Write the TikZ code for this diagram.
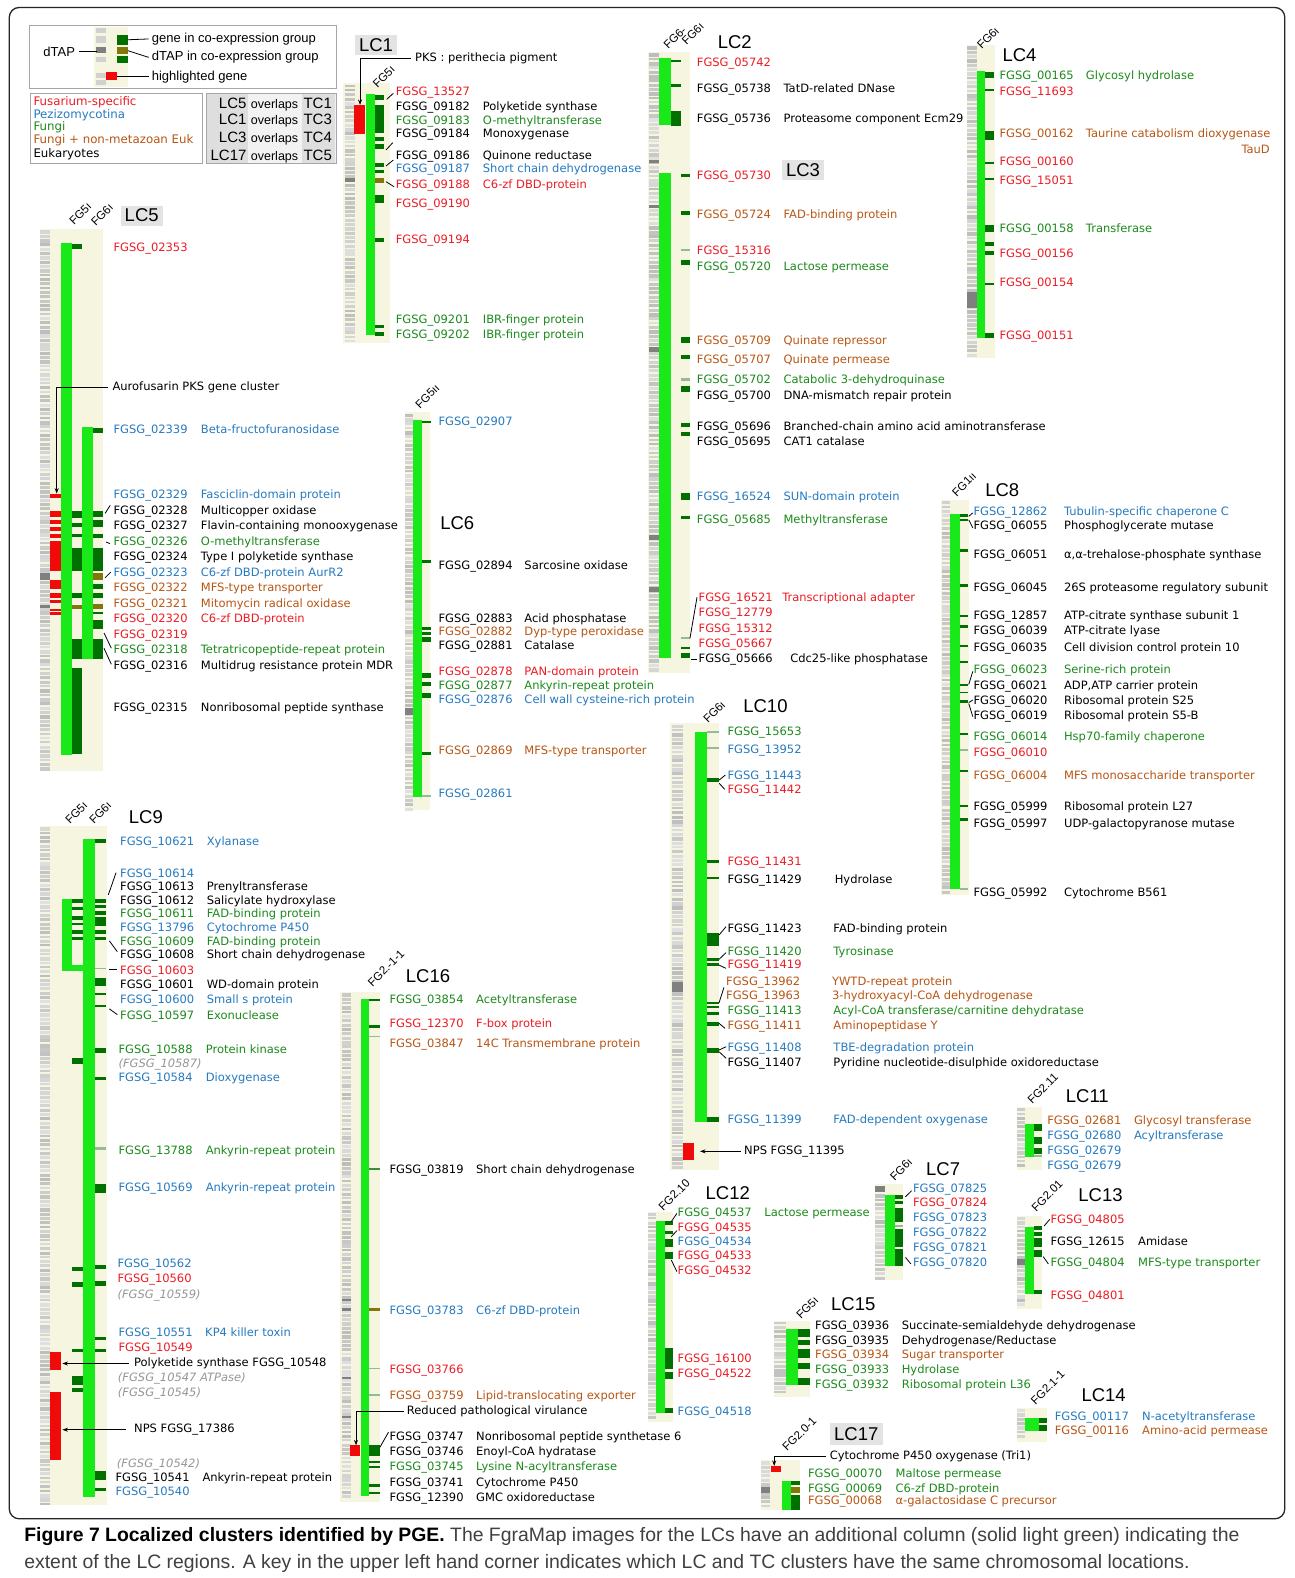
\documentclass[tikz,border=0pt]{standalone}
\usepackage{fontspec}
\setmainfont{DejaVu Sans}
\newfontfamily\hv{Liberation Sans}
\usetikzlibrary{arrows.meta}
\definecolor{bg}{RGB}{245,245,224}
\definecolor{lg}{RGB}{25,232,25}
\definecolor{dg}{RGB}{0,112,0}
\definecolor{mg}{RGB}{60,140,60}
\definecolor{ol}{RGB}{130,120,10}
\definecolor{hl}{RGB}{240,10,10}
\definecolor{lt}{RGB}{150,185,150}
\definecolor{dk}{RGB}{128,128,128}
\definecolor{cR}{RGB}{236,28,36}
\definecolor{cB}{RGB}{38,122,192}
\definecolor{cG}{RGB}{28,138,28}
\definecolor{cO}{RGB}{184,86,20}
\definecolor{cK}{RGB}{0,0,0}
\definecolor{cI}{RGB}{150,150,150}
\newcommand\gf{\fontsize{11.5}{13}\selectfont}
\newcommand\genN[5]{\node[gtxt,text=#4] (#1) at (#2,#3) {#5};}
\newcommand\genD[7]{\node[gtxt,text=#4] (#1) at (#2,#3) {#5};\node[gtxt,text=#4] (#1d) at (#6,#3) {#7};}
\newcommand\blk[3][dg]{\fill[#1] (\cx,#2) rectangle (\cX,#3);}
\newcommand\dtap[4]{%
 \pgfmathtruncatemacro\nn{(#4-#3)/4.3}%
 \foreach \i in {0,...,\nn}{%
  \pgfmathsetmacro\yy{#3+\i*4.3}%
  \pgfmathtruncatemacro\sh{12+rnd*15}%
  \pgfmathsetmacro\hh{2.2+rnd*1.6}%
  \fill[black!\sh] ({#1},{\yy}) rectangle ({#2},{\yy+\hh});}}
\begin{document}
\begin{tikzpicture}[x=1.0065pt,y=-1.0065pt,
 gtxt/.style={anchor=base west,inner sep=0,yshift=-4.2pt,font=\gf},
 gi/.style={gtxt,text=cI,font=\gf\itshape},
 lct/.style={inner sep=0,font=\hv\fontsize{18.5}{20}\selectfont},
 lcb/.style={lct,fill=black!11,minimum width=42pt,minimum height=20pt},
 fgl/.style={rotate=45,anchor=base west,inner sep=0,font=\hv\fontsize{11.5}{13}\selectfont},
 lead/.style={line width=0.8pt},
 arr/.style={-{Stealth[length=5.5pt,width=4pt]},line width=0.9pt},
 boxc/.style={draw=black!35,line width=0.8pt},
 keyt/.style={inner sep=0,anchor=west,font=\hv\fontsize{13}{15}\selectfont},
 legt/.style={gtxt,font=\fontsize{11.8}{13}\selectfont},
 ovb/.style={inner sep=0,yshift=-5.4pt,font=\hv\fontsize{15}{17}\selectfont},
 ovs/.style={inner sep=0,yshift=-5.4pt,font=\hv\fontsize{12.5}{14}\selectfont},
 captxt/.style={anchor=base west,inner sep=0,font=\hv\fontsize{19.4}{22}\selectfont,text=black!75}]
\pgfmathsetseed{4711}
\useasboundingbox (0,0) rectangle (1286.6,1567.8);
\fill[white] (0,0) rectangle (1286.6,1567.8);
\draw[black!85,line width=1.3pt,rounded corners=10pt] (9.2,7.4) rectangle (1276.5,1509);
% ---------------- KEY ----------------
\draw[boxc] (29.1,24.8) rectangle (334.5,87.7);
\fill[bg] (93.7,26.5) rectangle (127.5,86.1);
\fill[black!18] (95.4,28) rectangle (105.3,33);
\fill[black!18] (95.4,35.8) rectangle (105.3,42.4);
\fill[dk] (95.4,46.4) rectangle (105.3,53);
\fill[black!18] (95.4,56.4) rectangle (105.3,61.4);
\fill[black!18] (95.4,72.4) rectangle (105.3,77);
\fill[black!18] (95.4,79.7) rectangle (105.3,84.5);
\fill[dg] (116.6,34.8) rectangle (126.9,44.7);
\fill[ol] (116.6,47) rectangle (126.9,53.7);
\fill[dg] (116.6,55.6) rectangle (126.9,62.3);
\fill[hl] (105.3,71.9) rectangle (116.6,79.5);
\node[keyt] (kdtap) at (43,51.4) {dTAP};
\coordinate (kdm) at (96,51.4);
\draw[lead] ([xshift=4pt]kdtap.east) -- (kdm);
\node[keyt] (kgene) at (150.7,38.7) {gene in co-expression group};
\coordinate (kgm) at (126.9,39.5);
\draw[lead] (kgm) -- ([xshift=-3pt]kgene.west);
\node[keyt] (kdtc) at (150.7,57) {dTAP in co-expression group};
\coordinate (kom) at (126.9,50.3);
\draw[lead] (kom) -- ([xshift=-3pt]kdtc.west);
\node[keyt] (khl) at (150.7,76.2) {highlighted gene};
\coordinate (khm) at (116.6,76.2);
\draw[lead] (khm) -- ([xshift=-3pt]khl.west);
\draw[boxc] (29.8,92.7) rectangle (201,162.2);
\node[legt,text=cR] (leg1) at (33.1,100.4) {Fusarium-specific};
\node[legt,text=cB] (leg2) at (33.1,113.6) {Pezizomycotina};
\node[legt,text=cG] (leg3) at (33.1,125.9) {Fungi};
\node[legt,text=cO] (leg4) at (33.1,138.4) {Fungi + non-metazoan Euk};
\node[legt,text=cK] (leg5) at (33.1,152.3) {Eukaryotes};
\fill[black!5] (204.7,92.7) rectangle (334.5,162.2);
\fill[black!13] (205.3,93.2) rectangle (246.7,161.7);
\fill[black!13] (299.7,93.2) rectangle (332.8,161.7);
\draw[boxc] (204.7,92.7) rectangle (334.5,162.2);
\foreach \lc/\tc/\yy/\k in {LC5/TC1/102.7/a,LC1/TC3/118.6/b,LC3/TC4/136.4/c,LC17/TC5/154/d}{
 \node[ovb,anchor=base east] (ovl\k) at (245.1,\yy) {\lc};
 \node[ovs,anchor=base west] (ovm\k) at (249.1,\yy) {overlaps};
 \node[ovb,anchor=base west] (ovt\k) at (301.4,\yy) {\tc};}
% ---------------- LC1 ----------------
\fill[bg] (340.8,82.5) rectangle (387.5,340.8);
\dtap{342.8}{352.7}{84}{338}
\fill[dk] (342.8,176.9) rectangle (352.7,181);
\fill[hl] (351.7,104.3) rectangle (362.6,133.1);
\fill[lg] (363.6,93.4) rectangle (372.6,332.8);
\def\cx{372.6}\def\cX{381.5}
\blk{94.4}{99.4}\blk{104.3}{132.1}\blk{136.1}{140.1}\blk{143.1}{148}\blk{162}{166}\blk{168.9}{171.9}\blk[ol]{176.9}{181.8}\blk{193.7}{201.7}\blk{236.5}{240.4}\blk{322.9}{325.9}\blk{329.9}{333.8}
\node[lcb] (lc1) at (373.6,44.7) {LC1};
\node[fgl] (fg1) at (375,88) {FG5ı};
\node[gtxt] (pks) at (412.3,57) {PKS : perithecia pigment};
\coordinate (pksred) at (357.7,104.3);
\draw[arr] ([xshift=-4pt]pks.west) -| (pksred);
\genN{g13527}{393.1}{91.1}{cR}{FGSG\_13527}
\genD{g09182}{393.1}{105.3}{cK}{FGSG\_09182}{479.6}{Polyketide synthase}
\genD{g09183}{393.1}{119.2}{cG}{FGSG\_09183}{479.6}{O-methyltransferase}
\genD{g09184}{393.1}{132.8}{cK}{FGSG\_09184}{479.6}{Monoxygenase}
\genD{g09186}{393.1}{154.3}{cK}{FGSG\_09186}{479.6}{Quinone reductase}
\genD{g09187}{393.1}{167.6}{cB}{FGSG\_09187}{479.6}{Short chain dehydrogenase}
\genD{g09188}{393.1}{182.8}{cR}{FGSG\_09188}{479.6}{C6-zf DBD-protein}
\genN{g09190}{393.1}{202}{cR}{FGSG\_09190}
\genN{g09194}{393.1}{237.8}{cR}{FGSG\_09194}
\genD{g09201}{393.1}{316.9}{cG}{FGSG\_09201}{479.6}{IBR-finger protein}
\genD{g09202}{393.1}{332.1}{cG}{FGSG\_09202}{479.6}{IBR-finger protein}
\draw[lead] (384.2,98.7) -- (390.8,92.7);
\draw[lead] (383.5,149) -- (390.2,141.8);
\draw[lead] (383.5,164.9) -- (390.8,159);
\draw[lead] (383.5,180.5) -- (391.5,185.5);
% ---------------- LC2 / LC3 ----------------
\fill[bg] (644.1,51.3) rectangle (685.5,669);
\dtap{645}{655}{53}{666}
\fill[dk] (645,159) rectangle (655,162.2);
\fill[dk] (645,203.7) rectangle (655,206.4);
\fill[dk] (645,344.4) rectangle (655,349.4);
\fill[dk] (645,531.5) rectangle (655,536.5);
\fill[dk] (645,582.9) rectangle (655,587.9);
\fill[lg] (655,58) rectangle (666.4,124.2);
\fill[lg] (655,172.2) rectangle (666.4,654);
\def\cx{666.4}\def\cX{676.3}
\blk{59.6}{61.9}\blk{83.8}{86.1}\blk{110.3}{124.9}
\def\cx{676.3}\def\cX{685.5}
\blk{173.2}{175.9}\blk{209.3}{213.6}\blk[lt]{247.7}{249.4}\blk{258.6}{263.3}\blk{334.5}{341.1}\blk{352.7}{356.7}\blk[lt]{375.9}{378.2}\blk{383.3}{389.1}\blk{420.6}{423.9}\blk{428.9}{433.2}\blk{490.1}{496.8}\blk{512.7}{516}\blk[lt]{632.6}{635.2}\blk{642.5}{645.1}\blk{649.1}{653.9}
\node[lct] (lc2) at (730,41.5) {LC2};
\node[lcb] (lc3) at (797.8,168.9) {LC3};
\node[fgl] (fg2a) at (664,49.7) {FG6-};
\node[fgl] (fg2b) at (682,45.4) {FG6ı};
\genN{g05742}{692.2}{61.9}{cR}{FGSG\_05742}
\genD{g05738}{692.2}{87.8}{cK}{FGSG\_05738}{778.3}{TatD-related DNase}
\genD{g05736}{692.2}{117.9}{cK}{FGSG\_05736}{778.3}{Proteasome component Ecm29}
\genN{g05730}{692.2}{174.5}{cR}{FGSG\_05730}
\genD{g05724}{692.2}{212.6}{cO}{FGSG\_05724}{778.3}{FAD-binding protein}
\genN{g15316}{692.2}{249.1}{cR}{FGSG\_15316}
\genD{g05720}{692.2}{264.6}{cG}{FGSG\_05720}{778.3}{Lactose permease}
\genD{g05709}{692.2}{337.8}{cO}{FGSG\_05709}{778.3}{Quinate repressor}
\genD{g05707}{692.2}{357}{cO}{FGSG\_05707}{778.3}{Quinate permease}
\genD{g05702}{692.2}{377}{cG}{FGSG\_05702}{778.3}{Catabolic 3-dehydroquinase}
\genD{g05700}{692.2}{393.1}{cK}{FGSG\_05700}{778.3}{DNA-mismatch repair protein}
\genD{g05696}{692.2}{423.9}{cK}{FGSG\_05696}{778.3}{Branched-chain amino acid aminotransferase}
\genD{g05695}{692.2}{438.9}{cK}{FGSG\_05695}{778.3}{CAT1 catalase}
\genD{g16524}{692.2}{493.5}{cB}{FGSG\_16524}{778.3}{SUN-domain protein}
\genD{g05685}{692.2}{516}{cG}{FGSG\_05685}{778.3}{Methyltransferase}
\genD{g16521}{694}{593.5}{cR}{FGSG\_16521}{777}{Transcriptional adapter}
\genN{g12779}{694}{608.4}{cR}{FGSG\_12779}
\genN{g15312}{694}{624.2}{cR}{FGSG\_15312}
\genN{g05667}{694}{639.1}{cR}{FGSG\_05667}
\genD{g05666}{694}{654.1}{cK}{FGSG\_05666}{785}{Cdc25-like phosphatase}
\draw[lead] (685.5,634.2) -- (692.5,593.4);
\draw[lead] (686.2,655) -- (692.5,655);
% ---------------- LC4 ----------------
\fill[bg] (960.4,44.7) rectangle (988.6,356);
\dtap{961}{970.4}{46}{354}
\fill[dk] (961,289.8) rectangle (970.4,306.3);
\fill[lg] (970.4,70.5) rectangle (978.6,335.5);
\def\cx{978.6}\def\cX{987.9}
\blk{71.5}{77.5}\blk{88.4}{90.4}\blk{130.2}{139.1}\blk{161}{162.6}\blk{176.9}{178.8}\blk{223.5}{230.5}\blk{240.4}{244.4}\blk{249.4}{253.4}\blk{281.2}{283}\blk{330.9}{335.8}
\node[lct] (lc4) at (1012.9,54.6) {LC4};
\node[fgl] (fg4) at (975.3,49.7) {FG6ı};
\genD{g00165}{992.9}{75.2}{cG}{FGSG\_00165}{1078.7}{Glycosyl hydrolase}
\genN{g11693}{992.9}{91.1}{cR}{FGSG\_11693}
\genD{g00162}{992.9}{132.5}{cO}{FGSG\_00162}{1078.7}{Taurine catabolism dioxygenase}
\node[gtxt,anchor=base east,text=cO] (taud) at (1261.8,148) {TauD};
\genN{g00160}{992.9}{160.6}{cR}{FGSG\_00160}
\genN{g15051}{992.9}{179.2}{cR}{FGSG\_15051}
\genD{g00158}{992.9}{226.9}{cG}{FGSG\_00158}{1078.7}{Transferase}
\genN{g00156}{992.9}{251.4}{cR}{FGSG\_00156}
\genN{g00154}{992.9}{280.9}{cR}{FGSG\_00154}
\genN{g00151}{992.9}{332.8}{cR}{FGSG\_00151}
% ---------------- LC5 ----------------
\fill[bg] (39.7,227.1) rectangle (102.7,766);
\dtap{39.7}{49.7}{229}{764}
\fill[dk] (39.7,569.5) rectangle (49.7,576.6);
\fill[dk] (39.7,601) rectangle (49.7,604.5);
\fill[lg] (60.3,241.3) rectangle (71.2,750);
\fill[lg] (81.8,424) rectangle (92.7,654.6);
\def\cx{49.7}\def\cX{60.3}
\blk[hl]{490.4}{495}\blk[hl]{508.1}{513.8}\blk[hl]{516.3}{521}\blk[hl]{523.4}{528}\blk[hl]{530.5}{535}\blk[hl]{537}{567.7}\blk[hl]{576.6}{585.5}\blk[hl]{589}{594.3}\blk[hl]{596.5}{599.5}\blk[hl]{605}{607}\blk[hl]{608.5}{611}
\def\cx{71.2}\def\cX{81.8}
\blk{242.3}{247.3}\blk{508.1}{514.5}\blk{519.8}{523.4}\blk{530.5}{534}\blk{544.7}{567.7}\blk{589}{594.3}\blk[ol]{601.5}{605}\blk{635.1}{654.6}\blk{663.6}{748.7}
\def\cx{92.7}\def\cX{102.7}
\blk{424.8}{430.1}\blk{508.1}{513.8}\blk{516.3}{523.4}\blk{530.5}{534.5}\blk{544.7}{567.7}\blk[ol]{569.5}{576.6}\blk{580.1}{585.5}\blk{589}{594.3}\blk[ol]{600.4}{605}\blk{608.5}{610.3}\blk{615.6}{624.5}\blk{635.1}{654.6}
\node[lcb] (lc5) at (140.8,214.2) {LC5};
\node[fgl] (fg5a) at (73.5,224.3) {FG5ı};
\node[fgl] (fg5b) at (95,225.3) {FG6ı};
\genN{g02353}{112.6}{245.9}{cR}{FGSG\_02353}
\node[gtxt] (auro) at (111.6,383.6) {Aurofusarin PKS gene cluster};
\coordinate (aurored) at (56.3,490.4);
\draw[arr] ([xshift=-4pt]auro.west) -| (aurored);
\genD{g02339}{112.6}{426.8}{cB}{FGSG\_02339}{199.4}{Beta-fructofuranosidase}
\genD{g02329}{112.6}{491.4}{cB}{FGSG\_02329}{199.4}{Fasciclin-domain protein}
\genD{g02328}{112.6}{506.7}{cK}{FGSG\_02328}{199.4}{Multicopper oxidase}
\genD{g02327}{112.6}{522}{cK}{FGSG\_02327}{199.4}{Flavin-containing monooxygenase}
\genD{g02326}{112.6}{537.6}{cG}{FGSG\_02326}{199.4}{O-methyltransferase}
\genD{g02324}{112.6}{552.8}{cK}{FGSG\_02324}{199.4}{Type I polyketide synthase}
\genD{g02323}{112.6}{568.4}{cB}{FGSG\_02323}{199.4}{C6-zf DBD-protein AurR2}
\genD{g02322}{112.6}{583.7}{cO}{FGSG\_02322}{199.4}{MFS-type transporter}
\genD{g02321}{112.6}{599}{cO}{FGSG\_02321}{199.4}{Mitomycin radical oxidase}
\genD{g02320}{112.6}{614.6}{cR}{FGSG\_02320}{199.4}{C6-zf DBD-protein}
\genN{g02319}{112.6}{629.8}{cR}{FGSG\_02319}
\genD{g02318}{112.6}{645.1}{cG}{FGSG\_02318}{199.4}{Tetratricopeptide-repeat protein}
\genD{g02316}{112.6}{660.7}{cK}{FGSG\_02316}{199.4}{Multidrug resistance protein MDR}
\genD{g02315}{112.6}{702.6}{cK}{FGSG\_02315}{199.4}{Nonribosomal peptide synthase}
\draw[lead] (104.5,510) -- (109.5,502);
\draw[lead] (105.3,538.5) -- (109.3,540.1);
\draw[lead] (104.3,574.2) -- (110,568.4);
\draw[lead] (103.3,628.8) -- (110.6,644);
\draw[lead] (103.3,644) -- (110.6,660);
% ---------------- LC6 ----------------
\fill[bg] (402.4,409) rectangle (427.2,804.8);
\dtap{402.4}{410.6}{411}{803}
\fill[dk] (402.4,703.8) rectangle (410.6,710.4);
\fill[lg] (410.6,417.3) rectangle (418.9,791.6);
\def\cx{418.9}\def\cX{427.9}
\blk{418.3}{420.3}\blk{556.4}{559.4}\blk{622.9}{625.9}\blk{627.9}{630.9}\blk{632.9}{637.9}\blk{668.7}{673.6}\blk{677.6}{681.6}\blk{688.5}{693.5}\blk{747.2}{750.1}\blk[lt]{790.2}{791.6}
\node[lct] (lc6) at (454.3,519.9) {LC6};
\node[fgl] (fg6) at (417.3,406.7) {FG5ıı};
\genN{g02907}{435.5}{418.9}{cB}{FGSG\_02907}
\genD{g02894}{435.5}{561.4}{cK}{FGSG\_02894}{520.9}{Sarcosine oxidase}
\genD{g02883}{435.5}{614.3}{cK}{FGSG\_02883}{520.9}{Acid phosphatase}
\genD{g02882}{435.5}{627.6}{cO}{FGSG\_02882}{520.9}{Dyp-type peroxidase}
\genD{g02881}{435.5}{640.9}{cK}{FGSG\_02881}{520.9}{Catalase}
\genD{g02878}{435.5}{667.3}{cR}{FGSG\_02878}{520.9}{PAN-domain protein}
\genD{g02877}{435.5}{681.2}{cG}{FGSG\_02877}{520.9}{Ankyrin-repeat protein}
\genD{g02876}{435.5}{694.8}{cB}{FGSG\_02876}{520.9}{Cell wall cysteine-rich protein}
\genD{g02869}{435.5}{745.2}{cO}{FGSG\_02869}{520.9}{MFS-type transporter}
\genN{g02861}{435.5}{788.2}{cB}{FGSG\_02861}
% ---------------- LC8 ----------------
\fill[bg] (935,496.8) rectangle (962.7,889.2);
\dtap{936}{944.3}{498}{887}
\fill[lg] (944.3,510.7) rectangle (953.4,883.6);
\def\cx{953.4}\def\cX{961.8}
\blk{510.7}{513.4}\blk{515.6}{517.3}\blk{545.8}{548.1}\blk{580.5}{582.9}\blk{611}{613.3}\blk{621}{623.7}\blk{640.8}{642.5}\blk{657}{659}\blk{679.6}{681.6}\blk{687.2}{688.9}\blk{695.5}{698.1}\blk{727.9}{730.3}\blk[lt]{744.5}{745.8}\blk{765}{767.3}\blk{799.8}{801.5}\blk{813}{815.4}\blk[lt]{882.5}{884}
\node[lct] (lc8) at (995.8,486.9) {LC8};
\node[fgl] (fg8) at (950.5,494.1) {FG1ıı};
\genD{g12862}{967}{508.4}{cB}{FGSG\_12862}{1057}{Tubulin-specific chaperone C}
\genD{g06055}{967}{522.3}{cK}{FGSG\_06055}{1057}{Phosphoglycerate mutase}
\genD{g06051}{967}{550.7}{cK}{FGSG\_06051}{1057}{α,α-trehalose-phosphate synthase}
\genD{g06045}{967}{583.9}{cK}{FGSG\_06045}{1057}{26S proteasome regulatory subunit}
\genD{g12857}{967}{611.7}{cK}{FGSG\_12857}{1057}{ATP-citrate synthase subunit 1}
\genD{g06039}{967}{626.6}{cK}{FGSG\_06039}{1057}{ATP-citrate lyase}
\genD{g06035}{967}{643.1}{cK}{FGSG\_06035}{1057}{Cell division control protein 10}
\genD{g06023}{967}{664.7}{cG}{FGSG\_06023}{1057}{Serine-rich protein}
\genD{g06021}{967}{680.6}{cK}{FGSG\_06021}{1057}{ADP,ATP carrier protein}
\genD{g06020}{967}{696.2}{cK}{FGSG\_06020}{1057}{Ribosomal protein S25}
\genD{g06019}{967}{711.1}{cK}{FGSG\_06019}{1057}{Ribosomal protein S5-B}
\genD{g06014}{967}{731.2}{cG}{FGSG\_06014}{1057}{Hsp70-family chaperone}
\genN{g06010}{967}{747.8}{cR}{FGSG\_06010}
\genD{g06004}{967}{770.7}{cO}{FGSG\_06004}{1057}{MFS monosaccharide transporter}
\genD{g05999}{967}{800.8}{cK}{FGSG\_05999}{1057}{Ribosomal protein L27}
\genD{g05997}{967}{818}{cK}{FGSG\_05997}{1057}{UDP-galactopyranose mutase}
\genD{g05992}{967}{886.6}{cK}{FGSG\_05992}{1057}{Cytochrome B561}
\draw[lead] (962.5,513) -- (966.5,509.5);
\draw[lead] (962.5,516.5) -- (966.5,524.5);
\draw[lead] (962.5,680) -- (966.5,667);
\draw[lead] (962.5,698) -- (966.5,695.5);
\draw[lead] (962.5,699) -- (966.5,712);
% ---------------- LC10 ----------------
\fill[bg] (665.7,718.7) rectangle (714.4,1162.4);
\dtap{667.3}{678.3}{720}{1160}
\fill[dk] (667.3,975.3) rectangle (678.3,985.3);
\fill[hl] (678.3,1135.3) rectangle (689.5,1152.5);
\fill[lg] (690.5,727) rectangle (702.1,1114.5);
\def\cx{702.1}\def\cX{714.4}
\blk[lt]{726.2}{727.8}\blk[lt]{742.1}{743.7}\blk{772.6}{776.6}\blk{854.5}{857.8}\blk{871}{873.3}\blk{927.3}{939.9}\blk{952.1}{954.8}\blk{957.1}{959.8}\blk{995.2}{997.5}\blk{999.5}{1001.8}\blk{1005.2}{1008.4}\blk{1015.1}{1019.1}\blk{1041.6}{1045.9}\blk{1110.1}{1114.5}
\node[lct] (lc10) at (760.5,701.3) {LC10};
\node[fgl] (fg10) at (703.4,719.3) {FG6ı};
\genN{g15653}{722.6}{727}{cG}{FGSG\_15653}
\genN{g13952}{722.6}{744.2}{cB}{FGSG\_13952}
\genN{g11443}{722.6}{770.7}{cB}{FGSG\_11443}
\genN{g11442}{722.6}{783.9}{cR}{FGSG\_11442}
\genN{g11431}{722.6}{855.4}{cR}{FGSG\_11431}
\genD{g11429}{722.6}{873.3}{cK}{FGSG\_11429}{829.2}{Hydrolase}
\genD{g11423}{722.6}{922.3}{cK}{FGSG\_11423}{827.9}{FAD-binding protein}
\genD{g11420}{722.6}{944.9}{cG}{FGSG\_11420}{827.9}{Tyrosinase}
\genN{g11419}{722.6}{958.1}{cR}{FGSG\_11419}
\genD{g13962}{721.3}{975.3}{cO}{FGSG\_13962}{826.5}{YWTD-repeat protein}
\genD{g13963}{721.3}{989.2}{cO}{FGSG\_13963}{826.5}{3-hydroxyacyl-CoA dehydrogenase}
\genD{g11413}{722.6}{1004.1}{cG}{FGSG\_11413}{827.9}{Acyl-CoA transferase/carnitine dehydratase}
\genD{g11411}{722.6}{1018.7}{cO}{FGSG\_11411}{827.9}{Aminopeptidase Y}
\genD{g11408}{722.6}{1040.6}{cB}{FGSG\_11408}{827.9}{TBE-degradation protein}
\genD{g11407}{722.6}{1055.8}{cK}{FGSG\_11407}{827.9}{Pyridine nucleotide-disulphide oxidoreductase}
\genD{g11399}{722.6}{1111.8}{cB}{FGSG\_11399}{827.9}{FAD-dependent oxygenase}
\node[gtxt] (nps11395) at (739.2,1142.6) {NPS FGSG\_11395};
\coordinate (r11395) at (695.5,1143);
\draw[arr] ([xshift=-3pt]nps11395.west) -- (nps11395.west -| r11395);
\draw[lead] (714.5,775) -- (720.7,770);
\draw[lead] (714.5,778.2) -- (720,784.2);
\draw[lead] (714.4,929) -- (721.3,920.7);
\draw[lead] (714.4,953.1) -- (721.3,946.5);
\draw[lead] (714.4,958.8) -- (721.3,962.1);
\draw[lead] (714.4,996.2) -- (719.3,981);
\draw[lead] (714.4,1016.7) -- (720.3,1021.7);
\draw[lead] (714.4,1043.2) -- (721.5,1039.9);
\draw[lead] (714.4,1044.9) -- (721.5,1051.5);
% ---------------- LC9 ----------------
\fill[bg] (39.7,820.4) rectangle (106,1495);
\dtap{39.7}{49.7}{822}{1493}
\fill[hl] (49.7,1342.9) rectangle (60.3,1361.6);
\fill[hl] (49.7,1382.8) rectangle (60.3,1450.2);
\fill[lg] (61.3,893.6) rectangle (71.5,964.6);
\fill[lg] (71.5,958.5) rectangle (82.8,964.6);
\fill[lg] (82.8,833.8) rectangle (94.4,1487);
\def\cx{71.5}\def\cX{82.5}
\blk{893.6}{896.8}\blk{901.2}{904.6}\blk{910.4}{913.6}\blk{916.6}{918.8}\blk{923.9}{927.9}\blk{931.3}{933.5}\blk{1051.4}{1056.7}\blk{1259.2}{1262.3}\blk{1273.4}{1278.8}\blk{1340.1}{1343.6}\blk{1366.7}{1375.7}\blk{1379.2}{1382.8}
\def\cx{94.4}\def\cX{105.3}
\blk{833.8}{837.3}\blk{893.6}{896.8}\blk{899.5}{902.5}\blk{905}{909}\blk{911.3}{920.2}\blk{923.9}{927.9}\blk{931.3}{933.5}\blk[lt]{961.5}{963.2}\blk{971.2}{980}\blk{986.7}{989}\blk{998.7}{1000.9}\blk{1041.3}{1046.6}\blk{1070.1}{1073.2}\blk[lt]{1139.7}{1142.4}\blk{1176.3}{1185.2}\blk{1257.2}{1260.4}\blk{1272.9}{1277.2}\blk{1328.3}{1331.4}\blk{1340.1}{1343.6}\blk{1461.3}{1470.2}\blk{1478}{1481}
\node[lct] (lc9) at (144.9,811.4) {LC9};
\node[fgl] (fg9a) at (69.5,819.5) {FG5ı};
\node[fgl] (fg9b) at (93.3,819.5) {FG6ı};
\genD{g10621}{119.2}{835.9}{cB}{FGSG\_10621}{205.3}{Xylanase}
\genN{g10614}{119.2}{867.4}{cB}{FGSG\_10614}
\genD{g10613}{119.2}{880.7}{cK}{FGSG\_10613}{205.3}{Prenyltransferase}
\genD{g10612}{119.2}{894}{cK}{FGSG\_10612}{205.3}{Salicylate hydroxylase}
\genD{g10611}{119.2}{907.8}{cG}{FGSG\_10611}{205.3}{FAD-binding protein}
\genD{g13796}{119.2}{921.1}{cB}{FGSG\_13796}{205.3}{Cytochrome P450}
\genD{g10609}{119.2}{934.8}{cG}{FGSG\_10609}{205.3}{FAD-binding protein}
\genD{g10608}{119.2}{948.5}{cK}{FGSG\_10608}{205.3}{Short chain dehydrogenase}
\genN{g10603}{119.2}{963.6}{cR}{FGSG\_10603}
\genD{g10601}{119.2}{978.3}{cK}{FGSG\_10601}{205.3}{WD-domain protein}
\genD{g10600}{119.2}{992.9}{cB}{FGSG\_10600}{205.3}{Small s protein}
\genD{g10597}{119.2}{1008.9}{cG}{FGSG\_10597}{205.3}{Exonuclease}
\genD{g10588}{117.6}{1042.6}{cG}{FGSG\_10588}{204.3}{Protein kinase}
\node[gi] (g10587) at (117.6,1056.4) {(FGSG\_10587)};
\genD{g10584}{117.6}{1070.6}{cB}{FGSG\_10584}{204.3}{Dioxygenase}
\genD{g13788}{117.6}{1143.3}{cG}{FGSG\_13788}{204.3}{Ankyrin-repeat protein}
\genD{g10569}{117.6}{1179.2}{cB}{FGSG\_10569}{204.3}{Ankyrin-repeat protein}
\genN{g10562}{116.6}{1255.1}{cB}{FGSG\_10562}
\genN{g10560}{116.6}{1270.5}{cR}{FGSG\_10560}
\node[gi] (g10559) at (116.6,1286.1) {(FGSG\_10559)};
\genD{g10551}{117.6}{1323.8}{cB}{FGSG\_10551}{203.7}{KP4 killer toxin}
\genN{g10549}{117.6}{1338.9}{cR}{FGSG\_10549}
\node[gtxt] (pks10548) at (133.1,1353.5) {Polyketide synthase FGSG\_10548};
\node[gi] (g10547) at (117,1368.6) {(FGSG\_10547 ATPase)};
\node[gi] (g10545) at (117,1383.7) {(FGSG\_10545)};
\node[gtxt] (nps17386) at (133.1,1419.2) {NPS FGSG\_17386};
\node[gi] (g10542) at (116,1453.8) {(FGSG\_10542)};
\genD{g10541}{114.6}{1468}{cK}{FGSG\_10541}{201}{Ankyrin-repeat protein}
\genN{g10540}{114.6}{1482}{cB}{FGSG\_10540}
\coordinate (r10548) at (62,1353.5);
\coordinate (r17386) at (62,1419.2);
\draw[arr] ([xshift=-5pt]pks10548.west) -- (pks10548.west -| r10548);
\draw[arr] ([xshift=-8pt]nps17386.west) -- (nps17386.west -| r17386);
\draw[lead] (107.6,889.1) -- (115.3,867);
\draw[lead] (108.6,934.8) -- (116.6,945.5);
\draw[lead] (108.6,963.2) -- (116.6,963.2);
\draw[lead] (108.6,1002.3) -- (116.6,1008.1);
% ---------------- LC16 ----------------
\fill[bg] (337.8,985.4) rectangle (377.5,1492);
\dtap{339.5}{348.4}{987}{1490}
\fill[dk] (339.5,1290.5) rectangle (348.4,1292.3);
\fill[dk] (339.5,1299.5) rectangle (348.4,1302.3);
\fill[dk] (339.5,1367.6) rectangle (348.4,1369.6);
\fill[dk] (339.5,1406.7) rectangle (348.4,1408.7);
\fill[hl] (347.7,1436) rectangle (357.7,1446.7);
\fill[lg] (358.3,992.5) rectangle (366.9,1486);
\def\cx{366.9}\def\cX{377.5}
\blk{992.5}{995}\blk{1018.4}{1020.9}\blk[lt]{1029.1}{1030.5}\blk[mg]{1160.4}{1162.6}\blk[ol]{1299.5}{1303}\blk[lt]{1359.1}{1360.4}\blk[lt]{1385.3}{1387.4}\blk{1436}{1446.7}\blk{1452}{1453.7}\blk{1456.2}{1458}\blk{1474.3}{1477.5}\blk{1482.2}{1484.7}
\node[lct] (lc16) at (425.2,970.3) {LC16};
\node[fgl] (fg16) at (370,981) {FG2.-1-1};
\genD{g03854}{386.8}{993.2}{cG}{FGSG\_03854}{472.9}{Acetyltransferase}
\genD{g12370}{386.8}{1017}{cR}{FGSG\_12370}{472.9}{F-box protein}
\genD{g03847}{386.8}{1036.1}{cO}{FGSG\_03847}{472.9}{14C Transmembrane protein}
\genD{g03819}{386.8}{1161.4}{cK}{FGSG\_03819}{472.9}{Short chain dehydrogenase}
\genD{g03783}{386.8}{1301.9}{cB}{FGSG\_03783}{472.9}{C6-zf DBD-protein}
\genN{g03766}{386.8}{1360.8}{cR}{FGSG\_03766}
\genD{g03759}{386.8}{1386.4}{cO}{FGSG\_03759}{472.9}{Lipid-translocating exporter}
\node[gtxt] (rpv) at (404.1,1401.6) {Reduced pathological virulance};
\genD{g03747}{386.8}{1427.1}{cK}{FGSG\_03747}{472.9}{Nonribosomal peptide synthetase 6}
\genD{g03746}{386.8}{1442}{cK}{FGSG\_03746}{472.9}{Enoyl-CoA hydratase}
\genD{g03745}{386.8}{1457.3}{cG}{FGSG\_03745}{472.9}{Lysine N-acyltransferase}
\genD{g03741}{386.8}{1472.5}{cK}{FGSG\_03741}{472.9}{Cytochrome P450}
\genD{g12390}{386.8}{1487.4}{cK}{FGSG\_12390}{472.9}{GMC oxidoreductase}
\coordinate (r03746) at (353.7,1436);
\draw[arr] ([xshift=-3pt]rpv.west) -| (r03746);
\draw[lead] (377.5,1437.8) -- (386,1422.9);
% ---------------- LC12 ----------------
\fill[bg] (644.1,1203.9) rectangle (668.2,1412.5);
\dtap{644.1}{651.6}{1205}{1411}
\fill[lg] (651.6,1213.1) rectangle (660.7,1404.2);
\def\cx{660.7}\def\cX{668.2}
\blk{1213.1}{1217.1}\blk{1222.6}{1225.9}\blk{1231.3}{1238.6}\blk{1243.6}{1251.2}\blk{1339.6}{1360.5}\blk{1362.8}{1370.4}\blk{1399.2}{1404.2}
\node[lct] (lc12) at (723.1,1185.5) {LC12};
\node[fgl] (fg12) at (659,1203.5) {FG2.10};
\genD{g04537}{673.1}{1204.9}{cG}{FGSG\_04537}{759.2}{Lactose permease}
\genN{g04535}{673.1}{1219.4}{cR}{FGSG\_04535}
\genN{g04534}{673.1}{1233}{cB}{FGSG\_04534}
\genN{g04533}{673.1}{1246.9}{cR}{FGSG\_04533}
\genN{g04532}{673.1}{1261.8}{cR}{FGSG\_04532}
\genN{g16100}{673.1}{1349.6}{cR}{FGSG\_16100}
\genN{g04522}{673.1}{1364.8}{cR}{FGSG\_04522}
\genN{g04518}{673.1}{1401.9}{cB}{FGSG\_04518}
\draw[lead] (666.9,1213.8) -- (672.5,1205.5);
\draw[lead] (666.9,1228.7) -- (672.5,1222.7);
\draw[lead] (666.9,1251.8) -- (672.5,1263.4);
% ---------------- LC7 ----------------
\fill[bg] (869.8,1176.4) rectangle (897.5,1271.7);
\dtap{869.8}{879.3}{1178}{1270}
\fill[dk] (869.8,1178.4) rectangle (879.3,1184.1);
\fill[lg] (879.3,1187.3) rectangle (889.2,1257.8);
\def\cx{889.2}\def\cX{897.5}
\blk{1187.3}{1191.6}\blk{1193.6}{1196}\blk{1200.5}{1213.8}\blk[lt]{1217}{1218.7}\blk{1221.4}{1238.6}\blk{1241.2}{1257.8}
\node[lct] (lc7) at (937,1161.6) {LC7};
\node[fgl] (fg7) at (889,1173.5) {FG6ı};
\genN{g07825}{907}{1180.7}{cB}{FGSG\_07825}
\genN{g07824}{907}{1194.6}{cR}{FGSG\_07824}
\genN{g07823}{907}{1209.5}{cB}{FGSG\_07823}
\genN{g07822}{907}{1224.7}{cB}{FGSG\_07822}
\genN{g07821}{907}{1239.6}{cB}{FGSG\_07821}
\genN{g07820}{907}{1254.5}{cB}{FGSG\_07820}
\draw[lead] (899.6,1189) -- (905.8,1183);
\draw[lead] (899.6,1249.2) -- (905,1255.8);
% ---------------- LC11 ----------------
\fill[bg] (1010.4,1099.6) rectangle (1035.2,1162.4);
\dtap{1010.4}{1018.8}{1101}{1160}
\fill[lg] (1018.8,1116.7) rectangle (1027.1,1149.9);
\def\cx{1027.1}\def\cX{1035.3}
\blk{1116.7}{1123.4}\blk{1130}{1136.6}\blk{1140.9}{1146.5}\blk[lt]{1148}{1149.9}
\node[lct] (lc11) at (1080.3,1088.8) {LC11};
\node[fgl] (fg11) at (1025.5,1097.6) {FG2.11};
\genD{g02681}{1040.3}{1113.4}{cO}{FGSG\_02681}{1126.5}{Glycosyl transferase}
\genD{g02680}{1040.3}{1127.7}{cB}{FGSG\_02680}{1126.5}{Acyltransferase}
\genN{g02679a}{1040.3}{1142.6}{cB}{FGSG\_02679}
\genN{g02679b}{1040.3}{1157.8}{cB}{FGSG\_02679}
% ---------------- LC13 ----------------
\fill[bg] (1010.4,1208.2) rectangle (1035.2,1300.9);
\dtap{1010.4}{1018.8}{1209}{1299}
\fill[dk] (1010.4,1251.2) rectangle (1018.8,1256.8);
\fill[lg] (1018.8,1218.7) rectangle (1027.1,1285.6);
\def\cx{1027.1}\def\cX{1035.3}
\blk{1218.4}{1221.8}\blk{1224.5}{1227.5}\blk{1230.4}{1238.6}\blk{1241.9}{1249.2}\blk{1281.7}{1285.6}
\node[lct] (lc13) at (1093.4,1187.4) {LC13};
\node[fgl] (fg13) at (1029.5,1204.3) {FG2.01};
\genN{g04805}{1043.6}{1211.4}{cR}{FGSG\_04805}
\genD{g12615}{1043.6}{1233}{cK}{FGSG\_12615}{1130.6}{Amidase}
\genD{g04804}{1043.6}{1254.5}{cG}{FGSG\_04804}{1130.6}{MFS-type transporter}
\genN{g04801}{1043.6}{1286.6}{cR}{FGSG\_04801}
\draw[lead] (1037.4,1218) -- (1043,1211.4);
\draw[lead] (1036.5,1248.5) -- (1041.6,1255.8);
% ---------------- LC15 ----------------
\fill[bg] (769.2,1312.1) rectangle (804.8,1387.7);
\dtap{769.2}{780.7}{1313}{1386}
\fill[lg] (780.7,1320.7) rectangle (793.2,1376.1);
\def\cx{793.2}\def\cX{804.8}
\blk{1320.7}{1328.1}\blk{1331.4}{1336.4}\blk{1340.6}{1349.6}\blk{1354.6}{1360.5}\blk{1369.5}{1376.1}
\node[lct] (lc15) at (847.7,1295.2) {LC15};
\node[fgl] (fg15) at (795.7,1311.2) {FG5ı};
\genD{g03936}{809.7}{1316.4}{cK}{FGSG\_03936}{895.8}{Succinate-semialdehyde dehydrogenase}
\genD{g03935}{809.7}{1331.4}{cK}{FGSG\_03935}{895.8}{Dehydrogenase/Reductase}
\genD{g03934}{809.7}{1345.9}{cO}{FGSG\_03934}{895.8}{Sugar transporter}
\genD{g03933}{809.7}{1360.5}{cG}{FGSG\_03933}{895.8}{Hydrolase}
\genD{g03932}{809.7}{1375.4}{cG}{FGSG\_03932}{895.8}{Ribosomal protein L36}
% ---------------- LC14 ----------------
\fill[bg] (1010.4,1399.2) rectangle (1040.7,1432.4);
\dtap{1010.4}{1018.8}{1400}{1430}
\fill[lg] (1018.8,1409.2) rectangle (1032.5,1421.5);
\def\cx{1032.5}\def\cX{1040.7}
\blk{1409.2}{1414.2}\blk{1415.8}{1421.5}
\node[lct] (lc14) at (1096.5,1385.6) {LC14};
\node[fgl] (fg14) at (1028.8,1396.3) {FG2.1-1};
\genD{g00117}{1047.8}{1407.5}{cB}{FGSG\_00117}{1134.6}{N-acetyltransferase}
\genD{g00116}{1047.8}{1420.8}{cO}{FGSG\_00116}{1134.6}{Amino-acid permease}
% ---------------- LC17 ----------------
\node[lcb,minimum width=53pt,minimum height=22pt] (lc17) at (850.7,1424.6) {LC17};
\node[fgl] (fg17) at (782,1442.7) {FG2.0-1};
\fill[bg] (755.9,1450.6) rectangle (795.2,1500);
\dtap{755.9}{765}{1452}{1498}
\fill[dk] (755.9,1477.1) rectangle (765,1483.1);
\fill[hl] (766.3,1456.5) rectangle (775.8,1462.1);
\fill[lg] (776.6,1471.1) rectangle (785.7,1500);
\def\cx{785.7}\def\cX{795.2}
\blk{1471.1}{1475.4}\blk[ol]{1477.1}{1483.7}\blk{1485.4}{1500}
\node[gtxt] (cyp) at (824.2,1445.6) {Cytochrome P450 oxygenase (Tri1)};
\coordinate (r00070) at (769.2,1456.5);
\draw[arr] ([xshift=-4pt]cyp.west) -| (r00070);
\genD{g00070}{802.7}{1463.8}{cG}{FGSG\_00070}{889.6}{Maltose permease}
\genD{g00069}{802.7}{1478.7}{cG}{FGSG\_00069}{889.6}{C6-zf DBD-protein}
\genD{g00068}{802.7}{1491}{cO}{FGSG\_00068}{889.6}{α-galactosidase C precursor}
% ---------------- caption ----------------
\node[captxt] (cap1) at (24,1532) {{\color{black}\bfseries Figure 7 Localized clusters identified by PGE.} The FgraMap images for the LCs have an additional column (solid light green) indicating the};
\node[captxt] (cap2) at (24,1558) {extent of the LC regions. A key in the upper left hand corner indicates which LC and TC clusters have the same chromosomal locations.};
\end{tikzpicture}
\end{document}
